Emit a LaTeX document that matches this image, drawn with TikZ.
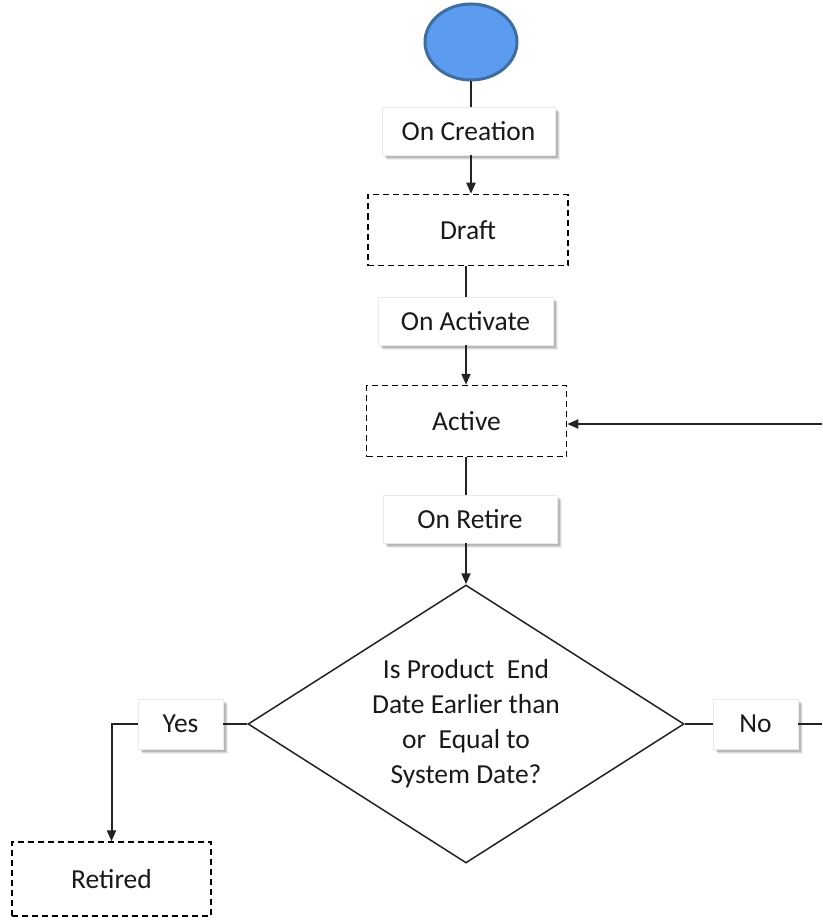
\documentclass[tikz,border=0pt]{standalone}
\usepackage{fontspec}
\setmainfont{Carlito}
\usetikzlibrary{shapes.geometric,arrows.meta,shadows}
\definecolor{startfill}{RGB}{91,155,240}
\definecolor{startedge}{RGB}{62,110,160}
\definecolor{txt}{RGB}{25,25,25}
\definecolor{lnc}{RGB}{35,35,35}
\begin{document}
\begin{tikzpicture}[x=1pt,y=-1pt,
  every node/.style={font=\fontsize{27.5}{35}\selectfont, text=txt},
  lbl/.style={fill=white, draw=black!8, line width=0.5pt, inner sep=0pt, minimum height=48pt,
    general shadow={shadow xshift=5pt, shadow yshift=-5pt, fill=black, opacity=0.06},
    general shadow={shadow xshift=4pt, shadow yshift=-4pt, fill=black, opacity=0.10},
    general shadow={shadow xshift=3pt, shadow yshift=-3pt, fill=black, opacity=0.14}},
  statebox/.style={draw=black, line width=1.5pt, dash pattern=on 6pt off 4pt,
    fill=white, inner sep=0pt, minimum width=200pt, minimum height=71pt},
  conn/.style={draw=lnc, line width=2pt},
  arr/.style={conn, -{Triangle[length=11pt,width=9pt]}}
]
\useasboundingbox (0,0) rectangle (822,920);
\fill[white] (0,0) rectangle (822,920);

\node[ellipse, draw=startedge, line width=3pt, fill=startfill,
  minimum width=92pt, minimum height=76pt, inner sep=0pt] (start) at (471,42) {};

\node[lbl, minimum width=173pt] (oncreation) at (468.5,131) {On Creation};
\node[statebox] (draft) at (468,230) {Draft};
\node[lbl, minimum width=175pt] (onactivate) at (465.5,321) {On Activate};
\node[statebox] (active) at (466.5,421) {Active};
\node[lbl, minimum width=174pt] (onretire) at (470,519) {On Retire};

\node[diamond, draw=lnc, line width=1.5pt, fill=white, aspect=1.57, inner sep=0pt,
  minimum width=436pt, minimum height=278pt, align=center] (dec) at (466,724)
  {Is Product~ End\\Date Earlier than\\or~ Equal to\\System Date?};

\node[lbl, minimum width=85pt, minimum height=50pt] (yes) at (180.5,724) {Yes};
\node[lbl, minimum width=85pt, minimum height=50pt] (no) at (755.5,724) {No};
\node[statebox, minimum width=199pt, minimum height=74pt] (retired) at (111.5,879) {Retired};

\coordinate (rin) at (822,424);
\coordinate (nout) at (822,724);

\draw[conn] (start.south) -- (start.south |- oncreation.north);
\draw[arr] (oncreation.south -| start) -- (draft.north -| start);
\draw[conn] (draft.south -| dec) -- (onactivate.north -| dec);
\draw[arr] (onactivate.south -| dec) -- (active.north -| dec);
\draw[conn] (active.south -| dec) -- (onretire.north -| dec);
\draw[arr] (onretire.south -| dec) -- (dec.north);
\draw[arr] (rin) -- (rin -| active.east);
\draw[conn] (dec.west) -- (yes.east);
\draw[arr] (yes.west) -| (retired.north);
\draw[conn] (dec.east) -- (no.west);
\draw[conn] (no.east) -- (nout);
\end{tikzpicture}
\end{document}
